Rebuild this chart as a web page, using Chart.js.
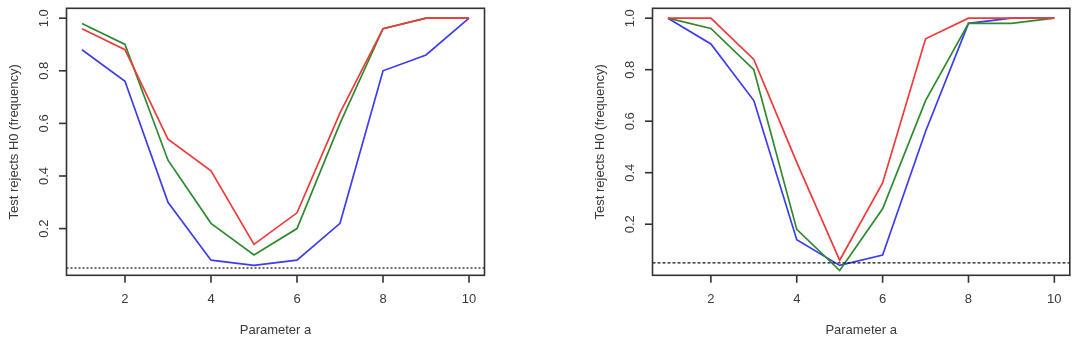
<!DOCTYPE html>
<html>
<head>
<meta charset="utf-8">
<script src="https://cdn.jsdelivr.net/npm/chart.js@4/dist/chart.umd.min.js"></script>
<style>
  html, body { margin: 0; padding: 0; background: #fff; }
  #wrap { position: relative; width: 1075px; height: 339px; }
  .panel { position: absolute; top: 0; height: 339px; }
</style>
</head>
<body>
<div id="wrap">
  <div class="panel" style="left:0;width:537px"><canvas id="leftChart"></canvas></div>
  <div class="panel" style="left:537px;width:538px"><canvas id="rightChart"></canvas></div>
</div>
<script>
// x values and tick labels
const params = [1, 2, 3, 4, 5, 6, 7, 8, 9, 10];
const xTicks = [2, 4, 6, 8, 10];
const yTicks = [0.2, 0.4, 0.6, 0.8, 1.0];
const nullLevel = 0.05;

// left panel
const leftBlue = [0.88, 0.76, 0.30, 0.08, 0.06, 0.08, 0.22, 0.80, 0.86, 1.00];
const leftGreen = [0.98, 0.90, 0.46, 0.22, 0.10, 0.20, 0.60, 0.96, 1.00, 1.00];
const leftRed = [0.96, 0.88, 0.54, 0.42, 0.14, 0.26, 0.64, 0.96, 1.00, 1.00];

// right panel
const rightBlue = [1.00, 0.90, 0.68, 0.14, 0.04, 0.08, 0.56, 0.98, 1.00, 1.00];
const rightGreen = [1.00, 0.96, 0.80, 0.18, 0.02, 0.26, 0.68, 0.98, 0.98, 1.00];
const rightRed = [1.00, 1.00, 0.84, 0.44, 0.06, 0.36, 0.92, 1.00, 1.00, 1.00];

const xTitle = "Parameter a";
const yTitle = "Test rejects H0 (frequency)";

const FONT = "13px 'Liberation Sans', Arial, sans-serif";
const TEXT = "#3a3a3a";

// R style: limits are data range widened by 4% each side (from the first series plotted)
function rRange(vals) {
  const lo = Math.min(...vals), hi = Math.max(...vals);
  const d = (hi - lo) * 0.04;
  return [lo - d, hi + d];
}

function toPoints(ys) {
  return params.map((x, i) => ({ x: x, y: ys[i] }));
}

// draws box, ticks, labels, titles and the reference line
const rAxes = {
  id: "rAxes",
  afterDraw(chart, args, opts) {
    const ctx = chart.ctx;
    const a = chart.chartArea;
    const xs = chart.scales.x, ys = chart.scales.y;
    ctx.save();

    // reference line
    const hy = ys.getPixelForValue(nullLevel);
    ctx.beginPath();
    ctx.setLineDash(opts.dash);
    ctx.strokeStyle = opts.lineColor;
    ctx.lineWidth = opts.width;
    ctx.moveTo(a.left, hy);
    ctx.lineTo(a.right, hy);
    ctx.stroke();
    ctx.setLineDash([]);

    // box
    ctx.strokeStyle = "#333";
    ctx.lineWidth = 1.6;
    ctx.strokeRect(a.left, a.top, a.right - a.left, a.bottom - a.top);

    ctx.fillStyle = TEXT;
    ctx.font = FONT;

    // x axis
    ctx.textAlign = "center";
    ctx.textBaseline = "middle";
    xTicks.forEach(v => {
      const px = xs.getPixelForValue(v);
      ctx.beginPath();
      ctx.moveTo(px, a.bottom);
      ctx.lineTo(px, a.bottom + 7.5);
      ctx.stroke();
      ctx.fillText(String(v), px, a.bottom + 24);
    });
    ctx.fillText(xTitle, (a.left + a.right) / 2, 330);

    // y axis
    yTicks.forEach(v => {
      const py = ys.getPixelForValue(v);
      ctx.beginPath();
      ctx.moveTo(a.left, py);
      ctx.lineTo(a.left - 7.5, py);
      ctx.stroke();
      ctx.save();
      ctx.translate(a.left - 22, py);
      ctx.rotate(-Math.PI / 2);
      ctx.fillText(v.toFixed(1), 0, 0);
      ctx.restore();
    });
    ctx.save();
    ctx.translate(a.left - 52, (a.top + a.bottom) / 2);
    ctx.rotate(-Math.PI / 2);
    ctx.fillText(yTitle, 0, 0);
    ctx.restore();

    ctx.restore();
  }
};

function makeChart(id, blue, green, red, padding, hline) {
  const yr = rRange(blue);
  return new Chart(document.getElementById(id).getContext("2d"), {
    type: "line",
    data: {
      datasets: [
        { data: toPoints(red), borderColor: "#f03a3a" },
        { data: toPoints(green), borderColor: "#2f8a2f" },
        { data: toPoints(blue), borderColor: "#3c3cf0" },
      ],
    },
    options: {
      responsive: true,
      maintainAspectRatio: false,
      animation: false,
      layout: { padding: padding },
      elements: {
        point: { radius: 0 },
        line: { borderWidth: 1.7, tension: 0 },
      },
      scales: {
        x: { type: "linear", display: false, min: 0.64, max: 10.36 },
        y: { type: "linear", display: false, min: yr[0], max: yr[1] },
      },
      plugins: {
        legend: { display: false },
        tooltip: { enabled: false },
        rAxes: hline,
      },
    },
    plugins: [rAxes],
  });
}

makeChart("leftChart", leftBlue, leftGreen, leftRed,
  { left: 66.5, right: 52.5, top: 8.3, bottom: 63.7 },
  { dash: [2, 2], lineColor: "#6a6a6a", width: 2 });

makeChart("rightChart", rightBlue, rightGreen, rightRed,
  { left: 115.5, right: 5.2, top: 8.3, bottom: 63.7 },
  { dash: [3, 2], lineColor: "#111", width: 1.4 });
</script>
</body>
</html>
